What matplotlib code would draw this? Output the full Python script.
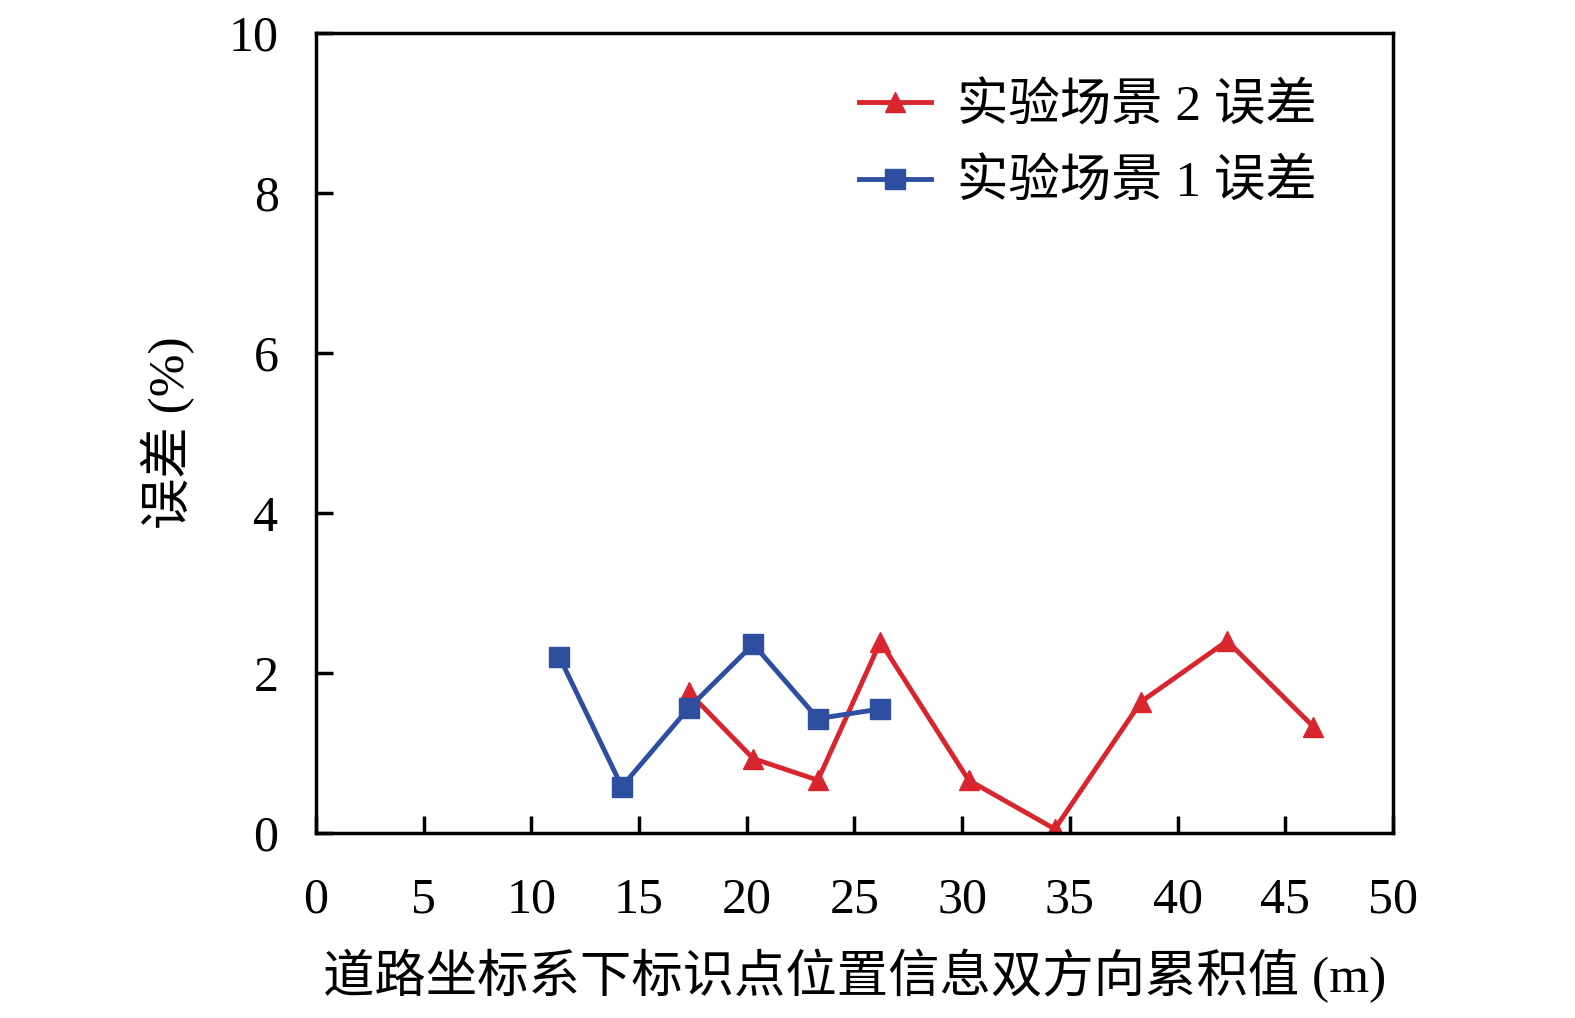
import matplotlib
matplotlib.use("Agg")
import matplotlib.pyplot as plt

plt.rcParams['font.family'] = ['Liberation Serif', 'Noto Sans CJK SC']

x1 = [11.3, 14.2, 17.3, 20.3, 23.3, 26.2]
y1 = [2.20, 0.58, 1.56, 2.36, 1.43, 1.55]
x2 = [17.3, 20.3, 23.3, 26.2, 30.3, 34.3, 38.3, 42.3, 46.3]
y2 = [1.76, 0.93, 0.66, 2.39, 0.66, 0.05, 1.64, 2.40, 1.33]
label1 = "实验场景 1 误差"
label2 = "实验场景 2 误差"
xlabel = "道路坐标系下标识点位置信息双方向累积值 (m)"
ylabel = "误差 (%)"

red = "#d9262e"
blue = "#2e4ea0"

fig = plt.figure(figsize=(15.75, 10.18), dpi=100)
ax = fig.add_axes([316/1575, 1-833/1018, (1393-316)/1575, (833-33)/1018])

ax.plot(x2, y2, color=red, marker='^', markersize=14, linewidth=3.5, label=label2)
ax.plot(x1, y1, color=blue, marker='s', markersize=15, linewidth=3.5, label=label1)

ax.set_xlim(0, 50)
ax.set_ylim(0, 10)
ax.set_xticks(range(0, 51, 5))
ax.set_yticks(range(0, 11, 2))
ax.tick_params(direction='in', length=12, width=2.5, labelsize=36, pad=32)
ax.tick_params(axis='y', pad=27)
for s in ax.spines.values():
    s.set_linewidth(2.5)

ax.set_xlabel(xlabel, fontsize=37, labelpad=18)
ax.set_ylabel(ylabel, fontsize=37, labelpad=24)

leg = ax.legend(loc='upper right', frameon=False, fontsize=37, handlelength=1.4,
                bbox_to_anchor=(0.972, 0.995), labelspacing=0.55, handletextpad=0.5)

fig.savefig("out.png", dpi=100)
